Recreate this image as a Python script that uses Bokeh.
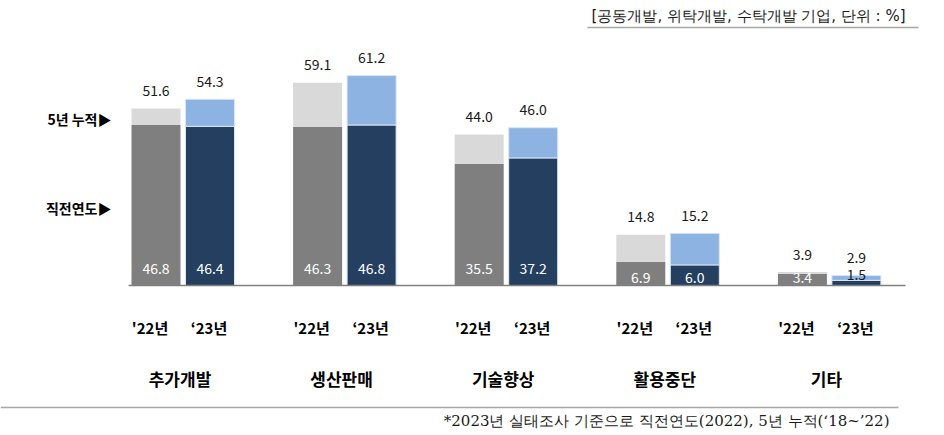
from bokeh.plotting import figure
from bokeh.models import Range1d, Label, ColumnDataSource
from bokeh.core.properties import value
from bokeh.embed import file_html
from bokeh.resources import INLINE

# ---- data ----
categories = ["추가개발", "생산판매", "기술향상", "활용중단", "기타"]
year_labels = ["'22년", "‘23년"]
prev_22 = [46.8, 46.3, 35.5, 6.9, 3.4]     # 직전연도
cum_22 = [51.6, 59.1, 44.0, 14.8, 3.9]     # 5년 누적
prev_23 = [46.4, 46.8, 37.2, 6.0, 1.5]
cum_23 = [54.3, 61.2, 46.0, 15.2, 2.9]
unit_note = "[공동개발, 위탁개발, 수탁개발 기업, 단위 : %]"
footnote = "*2023년 실태조사 기준으로 직전연도(2022), 5년 누적(‘18~’22)"
side_labels = ["5년 누적▶", "직전연도▶"]

# ---- layout ----
W, H = 944, 435
X0, SX = 101.7, 161.6        # pixel of category-unit 0, px per category
BASE, SY = 285.0, 3.43       # baseline pixel from top, px per %
FONT = value("Noto Sans CJK KR")

def dx(px):
    return (px - X0) / SX

def dy(px_from_top):
    return (BASE - px_from_top) / SY

p = figure(width=W, height=H, output_backend="svg", toolbar_location=None,
           x_range=Range1d(dx(0), dx(W)), y_range=Range1d(dy(H), dy(0)),
           min_border=0, outline_line_color=None)
p.axis.visible = False
p.grid.visible = False
p.background_fill_color = "white"
p.border_fill_color = "white"

off = 27 / SX
bw = 49 / SX
n = len(categories)
x22 = [i + 0.5 - off for i in range(n)]
x23 = [i + 0.5 + off for i in range(n)]

series = [
    (x22, prev_22, cum_22, "#7f7f7f", "#d9d9d9", None),
    (x23, prev_23, cum_23, "#243f60", "#8db3e2", "#dbe5f1"),
]
for xs, prev, cum, dark, light, lc in series:
    src = ColumnDataSource(dict(x=xs, prev=prev, cum=cum,
                                prev_s=[f"{v:.1f}" for v in prev],
                                cum_s=[f"{v:.1f}" for v in cum]))
    p.vbar(x="x", width=bw, bottom=0, top="prev", source=src,
           fill_color=dark, line_color=lc, line_width=1)
    p.vbar(x="x", width=bw, bottom="prev", top="cum", source=src,
           fill_color=light, line_color=lc, line_width=1)
    p.text(x="x", y="cum", text="cum_s", source=src, text_align="center",
           text_baseline="middle", y_offset=-18, text_font=FONT,
           text_font_size="14px", text_color="#1a1a1a")
    # inside labels
    ly = [5.0 if v >= 10 else (2.2 if v >= 3 else 3.2) for v in prev]
    lcol = ["white" if v >= 3 else "#1a1a1a" for v in prev]
    src2 = ColumnDataSource(dict(x=xs, y=ly, t=[f"{v:.1f}" for v in prev], c=lcol))
    p.text(x="x", y="y", text="t", text_color="c", source=src2,
           text_align="center", text_baseline="middle", text_font=FONT,
           text_font_size="14px")

# baseline axis line
p.segment(x0=[dx(128)], y0=[0], x1=[dx(905)], y1=[0], line_color="#7f7f7f", line_width=1.5)

# year labels
p.text(x=x22, y=[dy(327)] * n, text=[year_labels[0]] * n, text_align="center",
       text_baseline="middle", x_offset=-6, text_font=FONT, text_font_size="15px",
       text_font_style="bold", text_color="black")
p.text(x=x23, y=[dy(327)] * n, text=[year_labels[1]] * n, text_align="center",
       text_baseline="middle", x_offset=-1, text_font=FONT, text_font_size="15px",
       text_font_style="bold", text_color="black")
# category labels
p.text(x=[i + 0.5 for i in range(n)], y=[dy(378)] * n, text=categories,
       text_align="center", text_baseline="middle", x_offset=-3, text_font=FONT,
       text_font_size="17px", text_font_style="bold", text_color="black")

# side labels
p.text(x=[dx(111)] * 2, y=[dy(118), dy(207)], text=side_labels,
       text_align="right", text_baseline="middle", text_font=FONT,
       text_font_size="14px", text_font_style="bold", text_color="black")

# top note and rule
p.add_layout(Label(x=905, y=H - 15, x_units="screen", y_units="screen",
                   text=unit_note, text_align="right", text_baseline="middle",
                   text_font="DejaVu Sans", text_font_size="15px",
                   text_color="#1a1a1a"))
p.segment(x0=[dx(587)], y0=[dy(27)], x1=[dx(918)], y1=[dy(27)],
          line_color="#a6a6a6", line_width=1.5)

# bottom rule and footnote
p.segment(x0=[dx(0)], y0=[dy(407)], x1=[dx(898)], y1=[dy(407)],
          line_color="#a6a6a6", line_width=1.5)
p.add_layout(Label(x=889, y=H - 420, x_units="screen", y_units="screen",
                   text=footnote, text_align="right", text_baseline="middle",
                   text_font="DejaVu Serif", text_font_size="15px",
                   text_color="#1a1a1a"))

open("out.html", "w").write(file_html(p, INLINE))
